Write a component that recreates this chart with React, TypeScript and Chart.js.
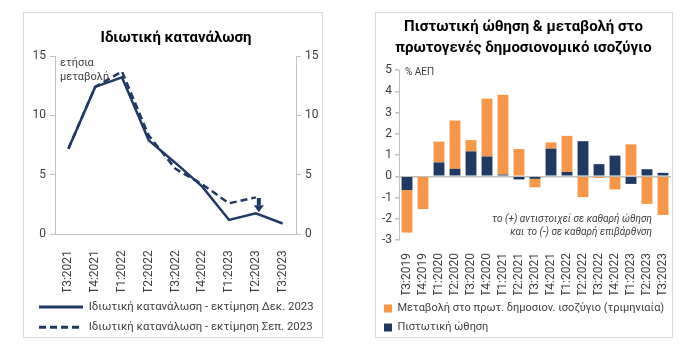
import React, { useEffect, useRef } from 'react';
import { Chart, registerables } from 'chart.js';

Chart.register(...registerables);

// ---------- Left chart data ----------
const quartersLeft = ['Τ3:2021', 'Τ4:2021', 'Τ1:2022', 'Τ2:2022', 'Τ3:2022', 'Τ4:2022', 'Τ1:2023', 'Τ2:2023', 'Τ3:2023'];
const consumptionDec2023 = [7.2, 12.4, 13.2, 7.9, 6.0, 4.0, 1.2, 1.75, 0.9];
const consumptionSep2023 = [7.2, 12.4, 13.7, 8.3, 5.5, 4.2, 2.6, 3.1, null];
const leftTickValues = [0, 5, 10, 15];
const arrowCategory = 'Τ2:2023';
const arrowFrom = 3.05;
const arrowTo = 1.85;

// ---------- Right chart data ----------
const quartersRight = ['Τ3:2019', 'Τ4:2019', 'Τ1:2020', 'Τ2:2020', 'Τ3:2020', 'Τ4:2020', 'Τ1:2021', 'Τ2:2021', 'Τ3:2021', 'Τ4:2021', 'Τ1:2022', 'Τ2:2022', 'Τ3:2022', 'Τ4:2022', 'Τ1:2023', 'Τ2:2023', 'Τ3:2023'];
const creditImpulse = [-0.65, 0, 0.65, 0.35, 1.17, 0.93, 0.08, -0.15, -0.12, 1.3, 0.2, 1.65, 0.57, 0.97, -0.36, 0.33, 0.16];
const primaryBalanceChange = [-2.0, -1.54, 0.98, 2.27, 0.53, 2.72, 3.75, 1.28, -0.4, 0.29, 1.7, -0.98, -0.08, -0.62, 1.5, -1.3, -1.82];
const rightTickValues = [-3, -2, -1, 0, 1, 2, 3, 4, 5];

const FONT = 'Roboto, "Noto Sans", "DejaVu Sans", sans-serif';
const NAVY = '#203864';
const ORANGE = '#F79646';
const AXIS = '#BFBFBF';
const TEXT = '#404040';

const leftNotes = {
  id: 'leftNotes',
  afterDatasetsDraw(chart: any) {
    const { ctx, chartArea, scales } = chart;
    ctx.save();
    ctx.fillStyle = TEXT;
    ctx.font = `11px ${FONT}`;
    ctx.textAlign = 'left';
    ctx.textBaseline = 'middle';
    ctx.fillText('ετήσια', chartArea.left + 5, chartArea.top + 7);
    ctx.fillText('μεταβολή', chartArea.left + 5, chartArea.top + 21);
    // arrow
    const x = scales.x.getPixelForValue(quartersLeft.indexOf(arrowCategory)) + 3;
    const y0 = scales.y.getPixelForValue(arrowFrom);
    const y1 = scales.y.getPixelForValue(arrowTo);
    const headH = 7;
    ctx.fillStyle = NAVY;
    ctx.fillRect(x - 2, y0, 4, y1 - y0 - headH);
    ctx.beginPath();
    ctx.moveTo(x - 5, y1 - headH);
    ctx.lineTo(x + 5, y1 - headH);
    ctx.lineTo(x, y1);
    ctx.closePath();
    ctx.fill();
    ctx.restore();
  },
};

const rightNotes = {
  id: 'rightNotes',
  afterDatasetsDraw(chart: any) {
    const { ctx, chartArea } = chart;
    ctx.save();
    ctx.fillStyle = TEXT;
    ctx.font = `10px ${FONT}`;
    ctx.textAlign = 'left';
    ctx.textBaseline = 'middle';
    ctx.fillText('% ΑΕΠ', chartArea.left + 6, chartArea.top + 2);
    ctx.font = `italic 10px ${FONT}`;
    ctx.textAlign = 'right';
    ctx.fillText('το (+) αντιστοιχεί σε καθαρή ώθηση', chartArea.right - 19, chartArea.bottom - 21);
    ctx.fillText('και το (-) σε καθαρή επιβάρθνση', chartArea.right - 19, chartArea.bottom - 8);
    ctx.restore();
  },
};

function LeftChart() {
  const ref = useRef<HTMLCanvasElement>(null);
  useEffect(() => {
    const yCommon = {
      min: 0,
      max: 15,
      afterBuildTicks: (s: any) => { s.ticks = leftTickValues.map((v) => ({ value: v })); },
      ticks: { font: { family: FONT, size: 12 }, color: TEXT, padding: 4 },
      grid: { drawOnChartArea: false, tickLength: 5, color: AXIS },
      border: { color: AXIS },
    };
    const chart = new Chart(ref.current as HTMLCanvasElement, {
      type: 'line',
      data: {
        labels: quartersLeft,
        datasets: [
          {
            label: 'Ιδιωτική κατανάλωση - εκτίμηση Δεκ. 2023',
            data: consumptionDec2023,
            borderColor: NAVY,
            backgroundColor: NAVY,
            borderWidth: 2.5,
            pointRadius: 0,
          },
          {
            label: 'Ιδιωτική κατανάλωση - εκτίμηση Σεπ. 2023',
            data: consumptionSep2023 as any,
            borderColor: NAVY,
            backgroundColor: NAVY,
            borderWidth: 2.5,
            borderDash: [7, 4],
            pointRadius: 0,
          },
        ],
      },
      options: {
        responsive: false,
        animation: false,
        layout: { padding: { left: 6, right: 0, top: 0, bottom: -6 } },
        plugins: {
          title: {
            display: true,
            text: 'Ιδιωτική κατανάλωση',
            font: { family: FONT, size: 15, weight: 'bold' },
            color: '#000',
            padding: { top: 16, bottom: 9 },
          },
          legend: {
            position: 'bottom',
            align: 'start',
            labels: {
              usePointStyle: true,
              pointStyle: 'line',
              pointStyleWidth: 44,
              font: { family: FONT, size: 11.4 },
              color: TEXT,
              padding: 9,
              generateLabels: (ch: any) => {
                const items = (Chart.defaults.plugins.legend.labels as any).generateLabels(ch);
                items.forEach((it: any) => {
                  const ds = ch.data.datasets[it.datasetIndex];
                  it.lineDash = ds.borderDash || [];
                  it.lineWidth = 3;
                  it.strokeStyle = NAVY;
                  it.fillStyle = NAVY;
                  it.pointStyle = 'line';
                });
                return items;
              },
            },
          },
          tooltip: { enabled: false },
        },
        scales: {
          x: {
            offset: true,
            grid: { display: false },
            border: { color: AXIS },
            ticks: { autoSkip: false, minRotation: 90, maxRotation: 90, font: { family: FONT, size: 12 }, color: TEXT, padding: 8 },
            afterFit: (s: any) => { s.height = 58; },
          },
          y: { ...yCommon, position: 'left', afterFit: (s: any) => { s.width = 25; } },
          y2: { ...yCommon, position: 'right', afterFit: (s: any) => { s.width = 26; } },
        },
      } as any,
      plugins: [leftNotes],
    });
    return () => chart.destroy();
  }, []);
  return <canvas ref={ref} width={298} height={324} style={{ position: 'absolute', left: 0, top: 0 }} />;
}

function RightChart() {
  const ref = useRef<HTMLCanvasElement>(null);
  useEffect(() => {
    const chart = new Chart(ref.current as HTMLCanvasElement, {
      type: 'bar',
      data: {
        labels: quartersRight,
        datasets: [
          {
            label: 'Πιστωτική ώθηση',
            data: creditImpulse,
            backgroundColor: NAVY,
            barPercentage: 0.68,
            categoryPercentage: 1,
          },
          {
            label: 'Μεταβολή στο πρωτ. δημοσιον. ισοζύγιο (τριμηνιαία)',
            data: primaryBalanceChange,
            backgroundColor: ORANGE,
            barPercentage: 0.68,
            categoryPercentage: 1,
          },
        ],
      },
      options: {
        responsive: false,
        animation: false,
        layout: { padding: { left: 0, right: 1, top: 0, bottom: -6 } },
        plugins: {
          title: {
            display: true,
            text: ['Πιστωτική ώθηση & μεταβολή στο', 'πρωτογενές δημοσιονομικό ισοζύγιο'],
            font: { family: FONT, size: 15, weight: 'bold', lineHeight: 1.4 },
            color: '#000',
            padding: { top: 4, bottom: 11 },
          },
          legend: {
            position: 'bottom',
            align: 'start',
            reverse: true,
            labels: {
              boxWidth: 8,
              boxHeight: 8,
              font: { family: FONT, size: 11 },
              color: TEXT,
              padding: 8,
            },
          },
          tooltip: { enabled: false },
        },
        scales: {
          x: {
            stacked: true,
            grid: { display: false },
            border: { display: false },
            ticks: { autoSkip: false, minRotation: 90, maxRotation: 90, font: { family: FONT, size: 12 }, color: TEXT, padding: 5 },
            afterFit: (s: any) => { s.height = 55; s.paddingLeft = 0; s.paddingRight = 0; },
          },
          y: {
            stacked: true,
            min: -3,
            max: 5,
            afterBuildTicks: (s: any) => { s.ticks = rightTickValues.map((v) => ({ value: v })); },
            ticks: { font: { family: FONT, size: 12 }, color: TEXT, padding: 3 },
            grid: {
              color: (c: any) => (c.tick && c.tick.value === 0 ? AXIS : 'rgba(0,0,0,0)'),
              tickColor: AXIS,
              tickLength: 4,
              lineWidth: 1.5,
            },
            border: { color: AXIS },
            afterFit: (s: any) => { s.width = 23; },
          },
        },
      } as any,
      plugins: [rightNotes],
    });
    return () => chart.destroy();
  }, []);
  return <canvas ref={ref} width={296} height={324} style={{ position: 'absolute', left: 0, top: 0 }} />;
}

export default function App() {
  const panel: React.CSSProperties = {
    position: 'absolute',
    top: 12,
    height: 326,
    border: '1px solid #D9D9D9',
    boxSizing: 'border-box',
    background: '#fff',
    overflow: 'hidden',
  };
  return (
    <div style={{ position: 'fixed', left: 0, top: 0, width: 700, height: 348, background: '#fff' }}>
      <div style={{ ...panel, left: 23, width: 300 }}>
        <LeftChart />
      </div>
      <div style={{ ...panel, left: 375, width: 298 }}>
        <RightChart />
      </div>
    </div>
  );
}
